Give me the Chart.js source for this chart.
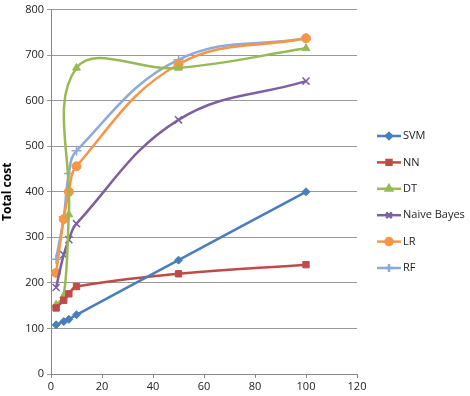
<!DOCTYPE html>
<html>
<head>
<meta charset="utf-8">
<script src="https://cdn.jsdelivr.net/npm/chart.js@4"></script>
<style>
  html, body { margin: 0; padding: 0; background: #fff; }
  #wrap { width: 470px; height: 396px; position: relative; }
</style>
</head>
<body>
<div id="wrap"><canvas id="chart" width="470" height="396"></canvas></div>
<script>
const xValues = [2, 5, 7, 10, 50, 100];
const svmCost = [108, 115, 120, 130, 250, 400];
const nnCost = [145, 162, 176, 192, 220, 240];
const dtCost = [152, 172, 350, 672, 672, 715];
const nbCost = [190, 262, 295, 330, 558, 643];
const lrCost = [222, 340, 400, 456, 680, 737];
const rfCost = [252, 345, 440, 490, 690, 737];
const yTicks = [0, 100, 200, 300, 400, 500, 600, 700, 800];
const xTicks = [0, 20, 40, 60, 80, 100, 120];

const seriesNames = ["SVM", "NN", "DT", "Naive Bayes", "LR", "RF"];
const seriesData = [svmCost, nnCost, dtCost, nbCost, lrCost, rfCost];
const colors = ["#4a7ebb", "#be4b48", "#98b954", "#7d60a0", "#f79646", "#8eaadb"];
const markers = ["rectRot", "rect", "triangle", "crossRot", "circle", "cross"];
const markerSize = [4, 4.5, 4.5, 5, 4.5, 5];

const datasets = seriesNames.map((name, i) => ({
  label: name,
  data: xValues.map((x, j) => ({ x: x, y: seriesData[i][j] })),
  borderColor: colors[i],
  backgroundColor: colors[i],
  pointStyle: markers[i],
  pointRadius: markerSize[i],
  pointBorderWidth: markers[i] === "crossRot" || markers[i] === "cross" ? 1.5 : 1,
  borderWidth: 2.5,
  showLine: true,
  tension: 0.4,
  fill: false
}));

// legend at right, line through the marker like Excel
const sideLegend = {
  id: "sideLegend",
  afterDraw(chart) {
    const c = chart.ctx;
    const x0 = 377, y0 = 136, step = 26.4;
    c.save();
    c.font = "11px 'Open Sans', sans-serif";
    c.textBaseline = "middle";
    datasets.forEach((ds, i) => {
      const y = y0 + i * step;
      c.strokeStyle = ds.borderColor;
      c.lineWidth = 2.5;
      c.beginPath();
      c.moveTo(x0, y);
      c.lineTo(x0 + 24, y);
      c.stroke();
      c.fillStyle = ds.borderColor;
      Chart.helpers.drawPoint(c, {
        pointStyle: ds.pointStyle,
        radius: ds.pointRadius - 1,
        borderWidth: 1.2
      }, x0 + 12, y);
      c.fillStyle = "#222";
      c.fillText(ds.label, x0 + 26, y);
    });
    c.restore();
  }
};

new Chart(document.getElementById("chart"), {
  type: "scatter",
  data: { datasets: datasets },
  options: {
    responsive: false,
    animation: false,
    layout: { padding: { top: 7, right: 113, left: 0, bottom: 0 } },
    plugins: { legend: { display: false }, tooltip: { enabled: false } },
    scales: {
      x: {
        min: 0, max: 120,
        afterBuildTicks: s => { s.ticks = xTicks.map(v => ({ value: v })); },
        afterFit: s => { s.height = 22; },
        grid: { drawOnChartArea: false, drawTicks: true, tickLength: 4, color: "#888" },
        border: { color: "#888" },
        ticks: { color: "#222", font: { family: "'Open Sans', sans-serif", size: 11 }, padding: 2, maxRotation: 0 }
      },
      y: {
        min: 0, max: 800,
        afterBuildTicks: s => { s.ticks = yTicks.map(v => ({ value: v })); },
        afterFit: s => { s.width = 51; },
        grid: { color: "#999", drawTicks: true, tickLength: 4 },
        border: { color: "#888" },
        title: { display: true, text: "Total cost", color: "#000", font: { family: "'Open Sans', sans-serif", size: 12, weight: "bold" }, padding: 0 },
        ticks: { color: "#222", font: { family: "'Open Sans', sans-serif", size: 11 }, padding: 3 }
      }
    }
  },
  plugins: [sideLegend]
});
</script>
</body>
</html>
